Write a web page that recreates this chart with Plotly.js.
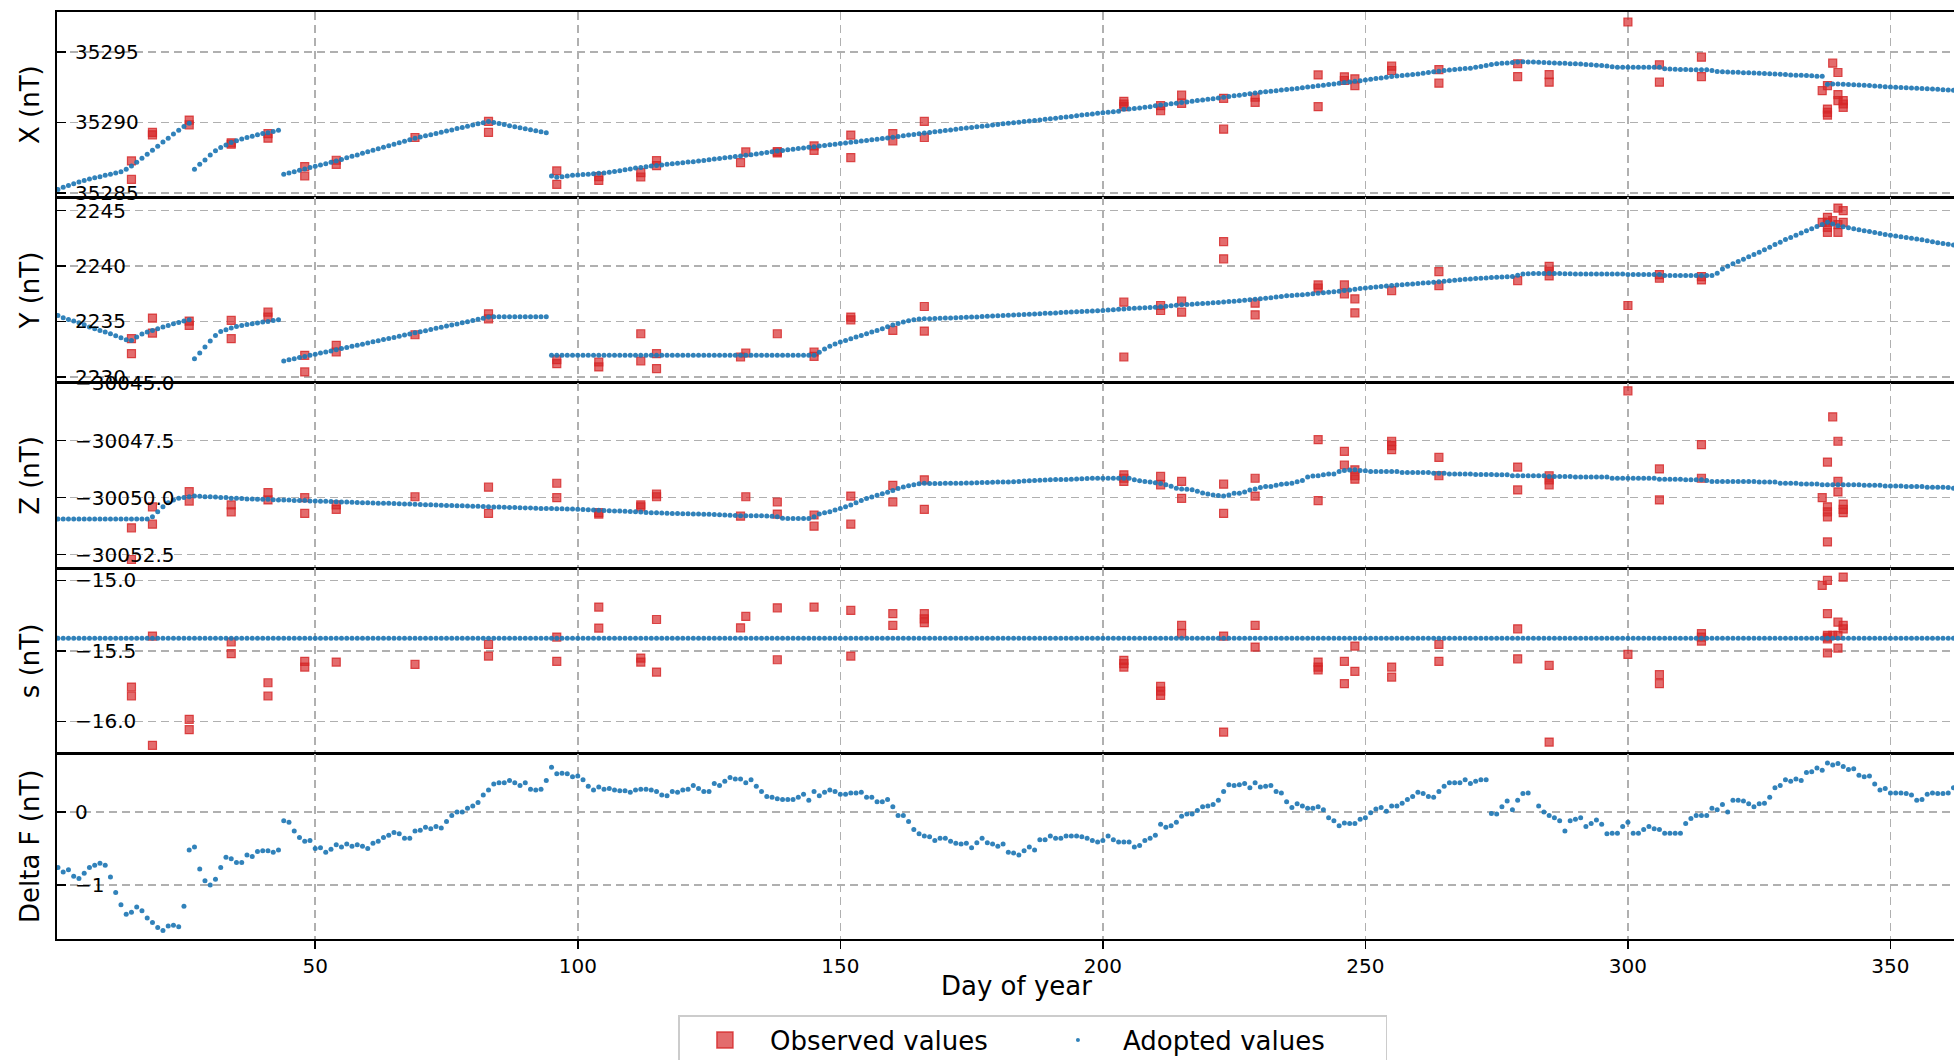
<!DOCTYPE html>
<html><head><meta charset="utf-8">
<script src="https://cdn.plot.ly/plotly-3.0.1.min.js"></script>
<style>html,body{margin:0;padding:0;overflow:hidden;background:#fff;width:1954px;height:1060px;} #chart{width:1975px;height:1080px;}</style>
</head><body><div id="chart"></div>
<script>
// ---------- x (day of year) ----------
const days = [
1,2,3,4,5,6,7,8,9,10,11,12,13,14,15,16,17,18,19,20,21,22,23,24,25,26,27,28,29,30,
31,32,33,34,35,36,37,38,39,40,41,42,43,44,45,46,47,48,49,50,51,52,53,54,55,56,57,58,59,60,
61,62,63,64,65,66,67,68,69,70,71,72,73,74,75,76,77,78,79,80,81,82,83,84,85,86,87,88,89,90,
91,92,93,94,95,96,97,98,99,100,101,102,103,104,105,106,107,108,109,110,111,112,113,114,115,116,117,118,119,120,
121,122,123,124,125,126,127,128,129,130,131,132,133,134,135,136,137,138,139,140,141,142,143,144,145,146,147,148,149,150,
151,152,153,154,155,156,157,158,159,160,161,162,163,164,165,166,167,168,169,170,171,172,173,174,175,176,177,178,179,180,
181,182,183,184,185,186,187,188,189,190,191,192,193,194,195,196,197,198,199,200,201,202,203,204,205,206,207,208,209,210,
211,212,213,214,215,216,217,218,219,220,221,222,223,224,225,226,227,228,229,230,231,232,233,234,235,236,237,238,239,240,
241,242,243,244,245,246,247,248,249,250,251,252,253,254,255,256,257,258,259,260,261,262,263,264,265,266,267,268,269,270,
271,272,273,274,275,276,277,278,279,280,281,282,283,284,285,286,287,288,289,290,291,292,293,294,295,296,297,298,299,300,
301,302,303,304,305,306,307,308,309,310,311,312,313,314,315,316,317,318,319,320,321,322,323,324,325,326,327,328,329,330,
331,332,333,334,335,336,337,338,339,340,341,342,343,344,345,346,347,348,349,350,351,352,353,354,355,356,357,358,359,360,
361,362];

// ---------- adopted values (one per day) ----------
const adoptedX = [
35285.24,35285.40,35285.52,35285.64,35285.76,35285.88,35285.98,35286.07,35286.14,35286.24,
35286.31,35286.40,35286.50,35286.67,35286.90,35287.17,35287.45,35287.74,35288.02,35288.31,
35288.60,35288.88,35289.17,35289.45,35289.71,35289.95,35286.67,35287.02,35287.33,35287.69,
35287.98,35288.21,35288.40,35288.57,35288.69,35288.83,35288.93,35289.02,35289.12,35289.21,
35289.26,35289.36,35289.45,35286.31,35286.41,35286.50,35286.60,35286.69,35286.79,35286.88,
35286.98,35287.07,35287.17,35287.26,35287.37,35287.48,35287.59,35287.69,35287.80,35287.91,
35288.02,35288.12,35288.23,35288.34,35288.45,35288.56,35288.66,35288.77,35288.88,35288.96,
35289.05,35289.13,35289.22,35289.30,35289.39,35289.47,35289.56,35289.64,35289.73,35289.81,
35289.90,35289.98,35290.07,35290.00,35289.92,35289.85,35289.77,35289.70,35289.63,35289.55,
35289.48,35289.41,35289.33,35289.26,35286.19,35286.10,35286.14,35286.19,35286.24,35286.26,
35286.29,35286.31,35286.35,35286.38,35286.40,35286.46,35286.52,35286.56,35286.64,35286.69,
35286.76,35286.79,35286.85,35286.90,35286.93,35286.98,35287.02,35287.06,35287.09,35287.13,
35287.18,35287.21,35287.26,35287.30,35287.35,35287.40,35287.44,35287.48,35287.53,35287.57,
35287.62,35287.67,35287.71,35287.76,35287.81,35287.86,35287.91,35287.96,35288.00,35288.05,
35288.09,35288.14,35288.18,35288.23,35288.27,35288.32,35288.36,35288.41,35288.45,35288.50,
35288.54,35288.59,35288.63,35288.68,35288.72,35288.77,35288.81,35288.86,35288.90,35288.95,
35289.00,35289.05,35289.10,35289.14,35289.19,35289.24,35289.29,35289.34,35289.38,35289.43,
35289.47,35289.51,35289.56,35289.60,35289.64,35289.69,35289.73,35289.77,35289.82,35289.86,
35289.90,35289.94,35289.98,35290.02,35290.06,35290.10,35290.14,35290.18,35290.22,35290.26,
35290.30,35290.35,35290.39,35290.43,35290.48,35290.52,35290.56,35290.60,35290.65,35290.69,
35290.72,35290.76,35290.80,35290.93,35290.96,35290.99,35291.03,35291.07,35291.12,35291.19,
35291.23,35291.28,35291.32,35291.37,35291.41,35291.46,35291.50,35291.55,35291.59,35291.64,
35291.69,35291.74,35291.79,35291.84,35291.89,35291.94,35291.99,35292.04,35292.09,35292.14,
35292.18,35292.22,35292.26,35292.30,35292.34,35292.38,35292.42,35292.47,35292.51,35292.55,
35292.60,35292.65,35292.70,35292.74,35292.79,35292.84,35292.88,35292.93,35292.97,35293.02,
35293.07,35293.12,35293.16,35293.21,35293.26,35293.30,35293.34,35293.37,35293.41,35293.45,
35293.50,35293.55,35293.60,35293.64,35293.69,35293.72,35293.76,35293.79,35293.83,35293.86,
35293.92,35293.98,35294.05,35294.11,35294.17,35294.20,35294.23,35294.26,35294.29,35294.31,
35294.30,35294.29,35294.27,35294.26,35294.24,35294.23,35294.21,35294.20,35294.18,35294.17,
35294.15,35294.12,35294.10,35294.07,35294.05,35294.02,35293.95,35293.93,35293.93,35293.93,
35293.93,35293.93,35293.93,35293.93,35293.93,35293.93,35293.81,35293.80,35293.78,35293.76,
35293.76,35293.75,35293.75,35293.74,35293.74,35293.70,35293.62,35293.60,35293.59,35293.57,
35293.56,35293.54,35293.53,35293.51,35293.50,35293.48,35293.46,35293.44,35293.42,35293.40,
35293.38,35293.36,35293.35,35293.33,35293.31,35293.29,35293.28,35292.71,35292.73,35292.74,
35292.72,35292.70,35292.68,35292.66,35292.64,35292.62,35292.59,35292.57,35292.54,35292.52,
35292.50,35292.48,35292.47,35292.45,35292.43,35292.41,35292.39,35292.37,35292.35,35292.33,
35292.31,35292.29];

const adoptedY = [
2235.54,2235.33,2235.18,2235.03,2234.88,2234.70,2234.49,2234.34,2234.19,2234.04,
2233.89,2233.71,2233.53,2233.35,2233.29,2233.59,2233.86,2234.04,2234.19,2234.34,
2234.49,2234.64,2234.79,2234.91,2235.03,2235.15,2231.64,2232.15,2232.69,2233.23,
2233.74,2234.10,2234.25,2234.40,2234.55,2234.64,2234.73,2234.79,2234.85,2234.94,
2235.00,2235.09,2235.15,2231.43,2231.53,2231.63,2231.74,2231.84,2231.94,2232.04,
2232.14,2232.24,2232.34,2232.45,2232.55,2232.65,2232.75,2232.85,2232.95,2233.06,
2233.16,2233.26,2233.36,2233.46,2233.56,2233.66,2233.77,2233.87,2233.97,2234.07,
2234.17,2234.27,2234.38,2234.48,2234.58,2234.68,2234.78,2234.88,2234.98,2235.09,
2235.19,2235.29,2235.39,2235.42,2235.42,2235.42,2235.42,2235.42,2235.42,2235.42,
2235.42,2235.42,2235.42,2235.42,2231.94,2231.94,2231.94,2231.94,2231.94,2231.94,
2231.94,2231.94,2231.94,2231.94,2231.94,2231.94,2231.94,2231.94,2231.94,2231.94,
2231.94,2231.94,2231.94,2231.94,2231.94,2231.94,2231.94,2231.94,2231.94,2231.94,
2231.94,2231.94,2231.94,2231.94,2231.94,2231.94,2231.94,2231.94,2231.94,2231.94,
2231.94,2231.94,2231.94,2231.94,2231.94,2231.94,2231.94,2231.94,2231.94,2231.94,
2231.94,2231.94,2231.94,2231.94,2231.94,2232.21,2232.51,2232.75,2232.96,2233.14,
2233.29,2233.44,2233.59,2233.74,2233.89,2234.04,2234.19,2234.34,2234.52,2234.67,
2234.82,2234.94,2235.06,2235.15,2235.21,2235.24,2235.25,2235.26,2235.28,2235.30,
2235.32,2235.34,2235.35,2235.37,2235.39,2235.41,2235.44,2235.46,2235.49,2235.51,
2235.53,2235.56,2235.58,2235.61,2235.63,2235.65,2235.68,2235.70,2235.73,2235.75,
2235.77,2235.80,2235.82,2235.85,2235.87,2235.89,2235.92,2235.94,2235.97,2235.99,
2236.03,2236.06,2236.10,2236.13,2236.17,2236.19,2236.22,2236.24,2236.27,2236.29,
2236.33,2236.38,2236.42,2236.46,2236.50,2236.53,2236.56,2236.59,2236.62,2236.65,
2236.69,2236.72,2236.76,2236.79,2236.83,2236.87,2236.91,2236.96,2237.00,2237.04,
2237.09,2237.15,2237.20,2237.26,2237.31,2237.35,2237.38,2237.40,2237.45,2237.49,
2237.54,2237.59,2237.64,2237.68,2237.73,2237.79,2237.85,2237.91,2237.97,2238.03,
2238.07,2238.11,2238.16,2238.20,2238.24,2238.28,2238.31,2238.35,2238.38,2238.42,
2238.46,2238.50,2238.55,2238.59,2238.63,2238.67,2238.71,2238.76,2238.80,2238.84,
2238.87,2238.90,2238.93,2238.96,2238.99,2239.01,2239.03,2239.05,2239.17,2239.29,
2239.31,2239.32,2239.33,2239.34,2239.35,2239.34,2239.33,2239.31,2239.30,2239.29,
2239.29,2239.29,2239.29,2239.29,2239.29,2239.29,2239.29,2239.29,2239.29,2239.23,
2239.23,2239.23,2239.23,2239.23,2239.23,2239.23,2239.14,2239.14,2239.14,2239.14,
2239.14,2239.14,2239.14,2239.14,2239.14,2239.14,2239.35,2239.74,2239.98,2240.20,
2240.41,2240.62,2240.83,2241.04,2241.25,2241.48,2241.71,2241.94,2242.16,2242.39,
2242.59,2242.79,2242.98,2243.18,2243.38,2243.57,2243.76,2243.95,2243.80,2243.65,
2243.56,2243.47,2243.38,2243.29,2243.20,2243.12,2243.03,2242.95,2242.86,2242.78,
2242.71,2242.65,2242.58,2242.52,2242.45,2242.37,2242.28,2242.20,2242.11,2242.03,
2241.97,2241.91];

const adoptedZ = [
-30050.94,-30050.94,-30050.94,-30050.94,-30050.94,-30050.94,-30050.94,-30050.94,-30050.94,-30050.94,
-30050.94,-30050.94,-30050.94,-30050.94,-30050.94,-30050.94,-30050.94,-30050.94,-30050.84,-30050.62,
-30050.40,-30050.22,-30050.10,-30050.03,-30049.99,-30049.96,-30049.93,-30049.94,-30049.96,-30049.96,
-30049.97,-30049.99,-30049.99,-30050.03,-30050.03,-30050.04,-30050.06,-30050.06,-30050.07,-30050.07,
-30050.07,-30050.09,-30050.10,-30050.10,-30050.10,-30050.12,-30050.12,-30050.13,-30050.15,-30050.15,
-30050.16,-30050.16,-30050.17,-30050.18,-30050.19,-30050.19,-30050.20,-30050.21,-30050.22,-30050.22,
-30050.23,-30050.24,-30050.25,-30050.25,-30050.26,-30050.27,-30050.28,-30050.28,-30050.29,-30050.30,
-30050.31,-30050.31,-30050.32,-30050.33,-30050.34,-30050.34,-30050.35,-30050.36,-30050.37,-30050.38,
-30050.38,-30050.39,-30050.40,-30050.41,-30050.41,-30050.42,-30050.43,-30050.43,-30050.44,-30050.45,
-30050.45,-30050.46,-30050.47,-30050.47,-30050.48,-30050.49,-30050.49,-30050.50,-30050.50,-30050.51,
-30050.52,-30050.53,-30050.54,-30050.55,-30050.56,-30050.57,-30050.58,-30050.59,-30050.60,-30050.61,
-30050.62,-30050.63,-30050.65,-30050.66,-30050.66,-30050.67,-30050.68,-30050.69,-30050.69,-30050.70,
-30050.71,-30050.72,-30050.72,-30050.73,-30050.73,-30050.74,-30050.75,-30050.76,-30050.77,-30050.78,
-30050.79,-30050.79,-30050.79,-30050.79,-30050.79,-30050.80,-30050.82,-30050.84,-30050.90,-30050.91,
-30050.91,-30050.91,-30050.91,-30050.91,-30050.84,-30050.72,-30050.66,-30050.62,-30050.54,-30050.47,
-30050.40,-30050.32,-30050.22,-30050.12,-30050.04,-30049.97,-30049.90,-30049.83,-30049.76,-30049.69,
-30049.60,-30049.53,-30049.48,-30049.44,-30049.39,-30049.37,-30049.38,-30049.38,-30049.38,-30049.37,
-30049.37,-30049.37,-30049.37,-30049.36,-30049.36,-30049.35,-30049.34,-30049.34,-30049.33,-30049.32,
-30049.32,-30049.31,-30049.30,-30049.29,-30049.27,-30049.26,-30049.25,-30049.24,-30049.23,-30049.22,
-30049.21,-30049.21,-30049.20,-30049.19,-30049.18,-30049.17,-30049.16,-30049.15,-30049.15,-30049.15,
-30049.15,-30049.15,-30049.15,-30049.15,-30049.15,-30049.22,-30049.26,-30049.29,-30049.32,-30049.35,
-30049.38,-30049.43,-30049.50,-30049.59,-30049.62,-30049.63,-30049.65,-30049.72,-30049.80,-30049.84,
-30049.88,-30049.91,-30049.93,-30049.88,-30049.81,-30049.81,-30049.75,-30049.66,-30049.62,-30049.56,
-30049.51,-30049.51,-30049.46,-30049.41,-30049.39,-30049.37,-30049.30,-30049.25,-30049.10,-30049.05,
-30049.04,-30049.00,-30048.96,-30048.96,-30048.85,-30048.81,-30048.79,-30048.78,-30048.81,-30048.82,
-30048.85,-30048.85,-30048.85,-30048.85,-30048.85,-30048.85,-30048.90,-30048.90,-30048.90,-30048.90,
-30048.90,-30048.90,-30048.93,-30048.93,-30048.93,-30048.96,-30048.96,-30048.96,-30048.96,-30048.96,
-30048.99,-30048.99,-30048.99,-30048.99,-30049.00,-30049.00,-30049.00,-30049.04,-30049.04,-30049.04,
-30049.04,-30049.04,-30049.04,-30049.04,-30049.07,-30049.07,-30049.07,-30049.07,-30049.07,-30049.10,
-30049.10,-30049.10,-30049.10,-30049.10,-30049.10,-30049.10,-30049.15,-30049.15,-30049.15,-30049.15,
-30049.15,-30049.15,-30049.15,-30049.15,-30049.15,-30049.19,-30049.19,-30049.19,-30049.19,-30049.19,
-30049.22,-30049.22,-30049.22,-30049.22,-30049.25,-30049.29,-30049.29,-30049.29,-30049.29,-30049.29,
-30049.29,-30049.29,-30049.29,-30049.29,-30049.32,-30049.32,-30049.32,-30049.32,-30049.37,-30049.37,
-30049.37,-30049.37,-30049.40,-30049.40,-30049.40,-30049.40,-30049.43,-30049.43,-30049.43,-30049.43,
-30049.43,-30049.43,-30049.43,-30049.43,-30049.46,-30049.46,-30049.46,-30049.46,-30049.49,-30049.49,
-30049.49,-30049.49,-30049.51,-30049.51,-30049.51,-30049.51,-30049.54,-30049.54,-30049.54,-30049.54,
-30049.56,-30049.59];

const adoptedS = [
-15.41,-15.41,-15.41,-15.41,-15.41,-15.41,-15.41,-15.41,-15.41,-15.41,
-15.41,-15.41,-15.41,-15.41,-15.41,-15.41,-15.41,-15.41,-15.41,-15.41,
-15.41,-15.41,-15.41,-15.41,-15.41,-15.41,-15.41,-15.41,-15.41,-15.41,
-15.41,-15.41,-15.41,-15.41,-15.41,-15.41,-15.41,-15.41,-15.41,-15.41,
-15.41,-15.41,-15.41,-15.41,-15.41,-15.41,-15.41,-15.41,-15.41,-15.41,
-15.41,-15.41,-15.41,-15.41,-15.41,-15.41,-15.41,-15.41,-15.41,-15.41,
-15.41,-15.41,-15.41,-15.41,-15.41,-15.41,-15.41,-15.41,-15.41,-15.41,
-15.41,-15.41,-15.41,-15.41,-15.41,-15.41,-15.41,-15.41,-15.41,-15.41,
-15.41,-15.41,-15.41,-15.41,-15.41,-15.41,-15.41,-15.41,-15.41,-15.41,
-15.41,-15.41,-15.41,-15.41,-15.41,-15.41,-15.41,-15.41,-15.41,-15.41,
-15.41,-15.41,-15.41,-15.41,-15.41,-15.41,-15.41,-15.41,-15.41,-15.41,
-15.41,-15.41,-15.41,-15.41,-15.41,-15.41,-15.41,-15.41,-15.41,-15.41,
-15.41,-15.41,-15.41,-15.41,-15.41,-15.41,-15.41,-15.41,-15.41,-15.41,
-15.41,-15.41,-15.41,-15.41,-15.41,-15.41,-15.41,-15.41,-15.41,-15.41,
-15.41,-15.41,-15.41,-15.41,-15.41,-15.41,-15.41,-15.41,-15.41,-15.41,
-15.41,-15.41,-15.41,-15.41,-15.41,-15.41,-15.41,-15.41,-15.41,-15.41,
-15.41,-15.41,-15.41,-15.41,-15.41,-15.41,-15.41,-15.41,-15.41,-15.41,
-15.41,-15.41,-15.41,-15.41,-15.41,-15.41,-15.41,-15.41,-15.41,-15.41,
-15.41,-15.41,-15.41,-15.41,-15.41,-15.41,-15.41,-15.41,-15.41,-15.41,
-15.41,-15.41,-15.41,-15.41,-15.41,-15.41,-15.41,-15.41,-15.41,-15.41,
-15.41,-15.41,-15.41,-15.41,-15.41,-15.41,-15.41,-15.41,-15.41,-15.41,
-15.41,-15.41,-15.41,-15.41,-15.41,-15.41,-15.41,-15.41,-15.41,-15.41,
-15.41,-15.41,-15.41,-15.41,-15.41,-15.41,-15.41,-15.41,-15.41,-15.41,
-15.41,-15.41,-15.41,-15.41,-15.41,-15.41,-15.41,-15.41,-15.41,-15.41,
-15.41,-15.41,-15.41,-15.41,-15.41,-15.41,-15.41,-15.41,-15.41,-15.41,
-15.41,-15.41,-15.41,-15.41,-15.41,-15.41,-15.41,-15.41,-15.41,-15.41,
-15.41,-15.41,-15.41,-15.41,-15.41,-15.41,-15.41,-15.41,-15.41,-15.41,
-15.41,-15.41,-15.41,-15.41,-15.41,-15.41,-15.41,-15.41,-15.41,-15.41,
-15.41,-15.41,-15.41,-15.41,-15.41,-15.41,-15.41,-15.41,-15.41,-15.41,
-15.41,-15.41,-15.41,-15.41,-15.41,-15.41,-15.41,-15.41,-15.41,-15.41,
-15.41,-15.41,-15.41,-15.41,-15.41,-15.41,-15.41,-15.41,-15.41,-15.41,
-15.41,-15.41,-15.41,-15.41,-15.41,-15.41,-15.41,-15.41,-15.41,-15.41,
-15.41,-15.41,-15.41,-15.41,-15.41,-15.41,-15.41,-15.41,-15.41,-15.41,
-15.41,-15.41,-15.41,-15.41,-15.41,-15.41,-15.41,-15.41,-15.41,-15.41,
-15.41,-15.41,-15.41,-15.41,-15.41,-15.41,-15.41,-15.41,-15.41,-15.41,
-15.41,-15.41,-15.41,-15.41,-15.41,-15.41,-15.41,-15.41,-15.41,-15.41,
-15.41,-15.41];

const adoptedDeltaF = [
-0.76,-0.82,-0.79,-0.88,-0.91,-0.84,-0.76,-0.73,-0.70,-0.73,
-0.89,-1.10,-1.27,-1.40,-1.37,-1.30,-1.35,-1.45,-1.51,-1.58,
-1.62,-1.56,-1.55,-1.57,-1.29,-0.52,-0.48,-0.78,-0.94,-1.00,
-0.92,-0.76,-0.62,-0.64,-0.69,-0.69,-0.59,-0.61,-0.54,-0.53,
-0.53,-0.55,-0.52,-0.12,-0.14,-0.26,-0.35,-0.40,-0.39,-0.50,
-0.49,-0.55,-0.51,-0.45,-0.48,-0.44,-0.47,-0.45,-0.47,-0.50,
-0.43,-0.40,-0.35,-0.32,-0.28,-0.30,-0.36,-0.36,-0.26,-0.25,
-0.21,-0.23,-0.20,-0.22,-0.13,-0.05,0.00,0.00,0.05,0.08,
0.13,0.23,0.30,0.38,0.40,0.40,0.43,0.40,0.36,0.40,
0.31,0.30,0.31,0.43,0.61,0.52,0.53,0.52,0.48,0.49,
0.44,0.35,0.30,0.34,0.31,0.32,0.30,0.29,0.29,0.27,
0.30,0.31,0.31,0.30,0.28,0.23,0.22,0.28,0.27,0.30,
0.31,0.36,0.32,0.28,0.28,0.39,0.36,0.42,0.47,0.45,
0.45,0.40,0.44,0.35,0.28,0.21,0.20,0.18,0.17,0.17,
0.17,0.20,0.24,0.16,0.28,0.22,0.27,0.30,0.28,0.24,
0.24,0.26,0.26,0.27,0.20,0.20,0.14,0.14,0.17,0.07,
-0.05,-0.05,-0.13,-0.24,-0.30,-0.33,-0.34,-0.39,-0.36,-0.36,
-0.40,-0.43,-0.44,-0.43,-0.49,-0.42,-0.36,-0.42,-0.44,-0.47,
-0.44,-0.55,-0.56,-0.59,-0.53,-0.48,-0.52,-0.38,-0.38,-0.33,
-0.36,-0.36,-0.33,-0.33,-0.33,-0.34,-0.36,-0.39,-0.41,-0.39,
-0.33,-0.38,-0.41,-0.41,-0.41,-0.48,-0.46,-0.39,-0.36,-0.32,
-0.17,-0.21,-0.19,-0.14,-0.06,-0.03,-0.03,0.02,0.07,0.08,
0.10,0.16,0.28,0.37,0.36,0.37,0.39,0.33,0.40,0.34,
0.35,0.36,0.28,0.26,0.14,0.06,0.11,0.08,0.05,0.05,
0.07,0.03,-0.08,-0.12,-0.19,-0.15,-0.16,-0.16,-0.10,-0.08,
-0.01,0.04,0.06,0.01,0.08,0.08,0.12,0.17,0.21,0.27,
0.25,0.21,0.20,0.28,0.35,0.40,0.40,0.40,0.44,0.39,
0.42,0.44,0.44,-0.02,-0.03,0.07,0.15,0.03,0.16,0.25,
0.26,null,0.08,0.00,-0.05,-0.08,-0.12,-0.26,-0.12,-0.10,
-0.08,-0.20,-0.16,-0.11,-0.17,-0.30,-0.29,-0.29,-0.20,-0.14,
-0.29,-0.29,-0.24,-0.20,-0.23,-0.24,-0.29,-0.29,-0.29,-0.29,
-0.16,-0.09,-0.05,-0.05,-0.05,0.05,0.03,0.10,0.00,0.16,
0.16,0.15,0.11,0.07,0.11,0.12,0.20,0.33,0.36,0.44,
0.42,0.45,0.43,0.54,0.55,0.60,0.57,0.67,0.64,0.66,
0.62,0.58,0.59,0.50,0.48,0.49,0.38,0.30,0.32,0.26,
0.26,0.26,0.25,0.23,0.16,0.17,0.24,0.26,0.25,0.25,
0.26,0.33];

// ---------- observed values ----------
const obsXDays = [15,15,19,19,26,26,34,34,41,41,48,48,54,54,69,83,83,96,96,104,104,112,112,115,115,131,132,138,138,145,145,152,152,160,160,166,166,204,204,204,211,211,215,215,223,223,229,229,241,241,246,246,248,248,255,255,264,264,279,279,285,285,300,306,306,314,314,337,338,338,338,338,339,340,340,340,341,341,341];
const obsX = [35287.26,35285.95,35289.29,35289.12,35290.17,35289.83,35288.55,35288.45,35289.21,35288.88,35286.86,35286.19,35287.31,35287.02,35288.93,35290.07,35289.29,35286.55,35285.60,35286.14,35285.88,35286.43,35286.12,35287.28,35286.93,35287.14,35287.90,35287.93,35287.83,35288.33,35288.02,35289.10,35287.50,35289.21,35288.69,35290.07,35288.93,35291.50,35291.31,35291.12,35291.19,35290.83,35291.95,35291.36,35291.71,35289.52,35291.79,35291.43,35293.38,35291.12,35293.24,35292.98,35293.10,35292.62,35294.00,35293.69,35293.76,35292.79,35294.17,35293.26,35293.40,35292.86,35297.14,35294.10,35292.86,35294.64,35293.26,35292.26,35292.62,35290.95,35290.71,35290.52,35294.21,35293.55,35291.98,35291.55,35291.55,35291.31,35291.07];

const obsYDays = [15,15,19,19,26,26,34,34,41,41,48,48,54,54,69,83,83,96,96,104,104,112,112,115,115,131,132,138,145,145,152,152,160,166,166,204,204,211,211,215,215,223,223,229,229,241,241,246,246,248,248,255,264,264,279,285,285,285,300,306,306,314,314,337,338,338,338,338,339,340,340,340,341,341];
const obsY = [2233.44,2232.09,2235.30,2233.95,2235.03,2234.64,2235.09,2233.44,2235.84,2235.39,2231.94,2230.44,2232.84,2232.24,2233.80,2235.69,2235.24,2231.55,2231.19,2231.34,2230.89,2233.89,2231.43,2232.09,2230.74,2231.79,2232.15,2233.89,2232.24,2231.85,2235.39,2235.15,2234.19,2236.35,2234.13,2236.74,2231.79,2236.44,2235.99,2236.83,2235.84,2242.21,2240.65,2236.65,2235.60,2238.30,2238.00,2238.30,2237.49,2237.04,2235.78,2237.79,2239.50,2238.24,2238.69,2239.98,2239.53,2239.11,2236.44,2239.23,2238.90,2239.05,2238.75,2243.95,2244.40,2243.95,2243.50,2243.05,2244.10,2245.24,2243.74,2243.05,2245.00,2243.95];

const obsZDays = [15,15,19,19,26,26,34,34,41,41,48,48,54,54,69,83,83,96,96,104,104,112,112,115,115,131,132,138,138,145,145,152,152,160,160,166,166,204,204,204,211,211,215,215,223,223,229,229,241,241,246,246,248,248,248,255,255,255,264,264,279,279,285,285,285,300,306,306,314,314,337,338,338,338,338,338,339,340,340,340,341,341,341];
const obsZ = [-30051.32,-30052.71,-30050.40,-30051.16,-30049.74,-30050.15,-30050.32,-30050.62,-30049.78,-30050.10,-30050.00,-30050.69,-30050.32,-30050.51,-30049.96,-30049.54,-30050.69,-30049.37,-30050.00,-30050.66,-30050.72,-30050.32,-30050.40,-30049.84,-30049.96,-30050.81,-30049.96,-30050.19,-30050.72,-30050.76,-30051.25,-30049.93,-30051.16,-30049.46,-30050.19,-30049.22,-30050.51,-30049.00,-30049.15,-30049.29,-30049.07,-30049.44,-30049.29,-30050.03,-30049.41,-30050.69,-30049.15,-30049.93,-30047.46,-30050.13,-30047.97,-30048.57,-30048.78,-30049.04,-30049.19,-30047.53,-30047.72,-30047.90,-30048.24,-30049.04,-30048.66,-30049.66,-30049.04,-30049.22,-30049.44,-30045.32,-30048.74,-30050.10,-30047.68,-30049.15,-30050.00,-30048.44,-30050.40,-30050.62,-30050.84,-30051.94,-30046.46,-30047.53,-30049.29,-30049.75,-30050.28,-30050.51,-30050.66];

const obsSDays = [15,15,19,19,26,26,34,34,41,41,48,48,54,69,83,83,96,96,104,104,112,112,115,115,131,132,138,138,145,152,152,160,160,166,166,166,204,204,204,211,211,211,215,215,223,223,229,229,241,241,241,246,246,248,248,255,255,264,264,279,279,285,285,300,306,306,314,314,314,337,338,338,338,338,338,338,339,340,340,340,341,341,341];
const obsS = [-15.757,-15.820,-15.395,-16.170,-15.986,-16.059,-15.437,-15.520,-15.726,-15.820,-15.574,-15.615,-15.579,-15.596,-15.454,-15.537,-15.402,-15.574,-15.189,-15.338,-15.551,-15.579,-15.277,-15.650,-15.336,-15.255,-15.194,-15.563,-15.189,-15.213,-15.537,-15.236,-15.319,-15.236,-15.272,-15.300,-15.567,-15.591,-15.615,-15.752,-15.785,-15.816,-15.319,-15.378,-15.395,-16.076,-15.319,-15.473,-15.579,-15.615,-15.634,-15.574,-15.733,-15.466,-15.645,-15.615,-15.686,-15.454,-15.574,-15.343,-15.556,-15.603,-16.147,-15.525,-15.669,-15.733,-15.378,-15.402,-15.430,-15.035,-15.000,-15.236,-15.390,-15.402,-15.414,-15.515,-15.390,-15.296,-15.390,-15.480,-14.976,-15.319,-15.343];

// ---------- tick labels ----------
const dayTickVals = [50,100,150,200,250,300,350];
const dayTickText = ['50','100','150','200','250','300','350'];
const xTickVals = [35285,35290,35295];
const xTickText = ['35285','35290','35295'];
const yTickVals = [2230,2235,2240,2245];
const yTickText = ['2230','2235','2240','2245'];
const zTickVals = [-30052.5,-30050,-30047.5,-30045];
const zTickText = ['\u221230052.5','\u221230050.0','\u221230047.5','\u221230045.0'];
const sTickVals = [-16,-15.5,-15];
const sTickText = ['\u221216.0','\u221215.5','\u221215.0'];
const dfTickVals = [-1,0];
const dfTickText = ['\u22121','0'];

const panelTitles = ['X (nT)','Y (nT)','Z (nT)','s (nT)','Delta F (nT)'];
const xTitle = 'Day of year';
const seriesNames = ['Observed values','Adopted values'];

// ---------- build ----------
const FONT = 'DejaVu Sans, Verdana, sans-serif';
const RED_FILL = 'rgba(214,39,40,0.68)';
const RED_EDGE = 'rgba(214,39,40,0.82)';
const BLUE = 'rgba(31,119,180,0.92)';
const GRID = '#b0b0b0';

const panels = [
  {od: obsXDays, ov: obsX, ad: adoptedX, range:[35284.67,35297.85], tv:xTickVals, tt:xTickText},
  {od: obsYDays, ov: obsY, ad: adoptedY, range:[2229.46,2246.2], tv:yTickVals, tt:yTickText},
  {od: obsZDays, ov: obsZ, ad: adoptedZ, range:[-30053.09,-30044.97], tv:zTickVals, tt:zTickText},
  {od: obsSDays, ov: obsS, ad: adoptedS, range:[-16.229,-14.913], tv:sTickVals, tt:sTickText},
  {od: null, ov: null, ad: adoptedDeltaF, range:[-1.737,0.797], tv:dfTickVals, tt:dfTickText}
];

const traces = [];
const layout = {
  width: 1975, height: 1080,
  margin: {l: 57, r: 0, t: 12, b: 141, pad: 0},
  paper_bgcolor: '#ffffff', plot_bgcolor: '#ffffff',
  font: {family: FONT, color: '#000000', size: 20},
  showlegend: true,
  legend: {
    orientation: 'h', x: 0.324, xanchor: 'left', y: -0.082, yanchor: 'top',
    font: {size: 26, family: FONT, color: '#000000'}, bordercolor: '#cccccc', borderwidth: 1.5,
    bgcolor: 'rgba(255,255,255,0.9)', itemwidth: 80, entrywidth: 258
  },
  annotations: [{
    text: xTitle, xref: 'paper', yref: 'paper', x: 0.5, y: -0.0503,
    xanchor: 'center', yanchor: 'middle', showarrow: false,
    font: {size: 26, family: FONT, color: '#000'}
  }]
};

panels.forEach((p, i) => {
  const n = i + 1;
  const xa = n === 1 ? 'x' : 'x' + n;
  const ya = n === 1 ? 'y' : 'y' + n;
  if (p.od) {
    traces.push({
      type: 'scatter', mode: 'markers', x: p.od, y: p.ov, xaxis: xa, yaxis: ya,
      name: seriesNames[0], showlegend: false, hoverinfo: 'x+y',
      marker: {symbol: 'square', size: 8, color: RED_FILL, line: {color: RED_EDGE, width: 1.2}}
    });
  }
  traces.push({
    type: 'scatter', mode: 'markers', x: days, y: p.ad, xaxis: xa, yaxis: ya,
    name: seriesNames[1], showlegend: false, hoverinfo: 'x+y',
    marker: {symbol: 'circle', size: 5, color: BLUE, line: {width: 0}}
  });
  const dom = [0.8 - 0.2 * i, 1 - 0.2 * i];
  const last = n === 5;
  layout['xaxis' + (n === 1 ? '' : n)] = {
    domain: [0, 1], anchor: ya, range: [0.82, 366.1],
    tickvals: dayTickVals, ticktext: dayTickText,
    showticklabels: last, ticks: last ? 'outside' : '', ticklen: 8, tickwidth: 1.5, tickcolor: '#000',
    tickfont: {size: 20, family: FONT, color: '#000'},
    showgrid: true, gridcolor: GRID, gridwidth: 1.5, griddash: '8px,5px',
    showline: true, mirror: true, linecolor: '#000', linewidth: 1.6, zeroline: false
  };
  layout['yaxis' + (n === 1 ? '' : n)] = {
    domain: dom, anchor: xa, range: p.range,
    tickvals: p.tv, ticktext: p.tt,
    ticks: 'inside', ticklen: 9, tickwidth: 1.5, tickcolor: '#000',
    ticklabelposition: 'inside', ticklabeloverflow: 'allow', ticklabelstandoff: 10,
    tickfont: {size: 20, family: FONT, color: '#000'},
    showgrid: true, gridcolor: GRID, gridwidth: 1.5, griddash: '8px,5px',
    showline: true, mirror: true, linecolor: '#000', linewidth: 1.6, zeroline: false,
    title: {text: panelTitles[i], font: {size: 26, family: FONT, color: '#000'}, standoff: 28}
  };
});

// legend entries
traces.push({type: 'scatter', mode: 'markers', x: [null], y: [null], xaxis: 'x5', yaxis: 'y5',
  name: seriesNames[0], showlegend: true,
  marker: {symbol: 'square', size: 16, color: RED_FILL, line: {color: RED_EDGE, width: 1.5}}});
traces.push({type: 'scatter', mode: 'markers', x: [null], y: [null], xaxis: 'x5', yaxis: 'y5',
  name: seriesNames[1], showlegend: true,
  marker: {symbol: 'circle', size: 4, color: BLUE}});

Plotly.newPlot('chart', traces, layout, {staticPlot: true, displayModeBar: false});
</script>
</body></html>
